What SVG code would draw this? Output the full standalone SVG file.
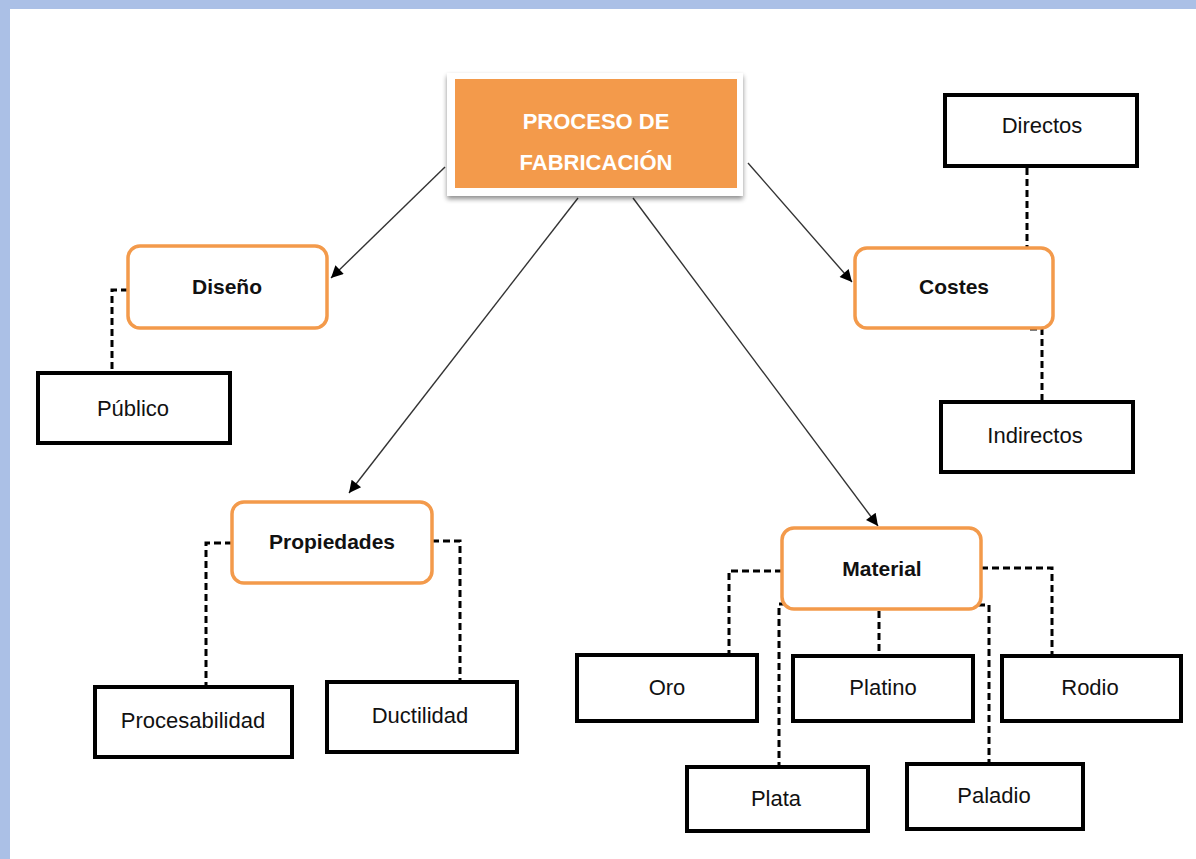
<svg xmlns="http://www.w3.org/2000/svg" width="1196" height="859" viewBox="0 0 1196 859">
  <style>
    .lbl { font-family: "Liberation Sans", Arial, sans-serif; fill: #111; text-anchor: middle; }
    .bold { font-weight: bold; font-size: 21px; }
    .reg { font-size: 22px; }
    .cat { fill: #fff; stroke: #f39a4b; stroke-width: 3.5; }
    .leaf { fill: #fff; stroke: #000; stroke-width: 4; }
    .arrow { fill: none; stroke: #333; stroke-width: 1.4; marker-end: url(#ah); }
    .dash { fill: none; stroke: #000; stroke-width: 3; stroke-dasharray: 7 4; }
  </style>
  <defs>
    <marker id="ah" viewBox="0 0 10 10" refX="10" refY="5" markerWidth="14" markerHeight="12" markerUnits="userSpaceOnUse" orient="auto">
      <path d="M0,0 L10,5 L0,10 z" fill="#000"/>
    </marker>
    <filter id="sh" x="-10%" y="-10%" width="130%" height="140%">
      <feGaussianBlur in="SourceAlpha" stdDeviation="2.5"/>
      <feOffset dx="0" dy="3" result="b"/>
      <feComponentTransfer><feFuncA type="linear" slope="0.45"/></feComponentTransfer>
      <feMerge><feMergeNode/><feMergeNode in="SourceGraphic"/></feMerge>
    </filter>
  </defs>

  <rect x="0" y="0" width="1196" height="859" fill="#fff"/>
  <rect x="0" y="0" width="1196" height="9" fill="#abc0e6"/>
  <rect x="0" y="0" width="10" height="859" fill="#abc0e6"/>

  <g id="connectors">
    <line class="arrow" x1="445" y1="167" x2="331" y2="278"/>
    <line class="arrow" x1="578" y1="198" x2="349" y2="493"/>
    <line class="arrow" x1="633" y1="198" x2="878" y2="526"/>
    <line class="arrow" x1="748" y1="163" x2="852" y2="282"/>

    <polyline class="dash" points="128,290 112,290 112,371"/>
    <polyline class="dash" points="1027,168 1027,251 1023,251"/>
    <polyline class="dash" points="1030,329 1042,329 1042,400"/>
    <polyline class="dash" points="232,543 206,543 206,686"/>
    <polyline class="dash" points="432,541 460,541 460,684 485,684"/>

    <polyline class="dash" points="782,571 729,571 729,655"/>
    <polyline class="dash" points="786,604 779,604 779,766"/>
    <line class="dash" x1="879" y1="611" x2="879" y2="654"/>
    <polyline class="dash" points="978,605 989,605 989,763"/>
    <polyline class="dash" points="981,568 1052,568 1052,655"/>
  </g>

  <g id="proceso">
    <rect x="447" y="73" width="296" height="123" fill="#fff" filter="url(#sh)"/>
    <rect x="455" y="79" width="282" height="109" fill="#f39a4b"/>
    <text class="lbl" x="596" y="129" font-size="22" font-weight="bold" style="fill:#fff">PROCESO DE</text>
    <text class="lbl" x="596" y="170" font-size="22" font-weight="bold" style="fill:#fff">FABRICACIÓN</text>
  </g>

  <g id="diseno">
    <rect class="cat" x="128" y="246" width="199" height="82" rx="12"/>
    <text class="lbl bold" x="227" y="294">Diseño</text>
  </g>
  <g id="publico">
    <rect class="leaf" x="38" y="373" width="192" height="70"/>
    <text class="lbl reg" x="133" y="416">Público</text>
  </g>

  <g id="costes">
    <rect class="cat" x="855" y="248" width="198" height="80" rx="12"/>
    <text class="lbl bold" x="954" y="294">Costes</text>
  </g>
  <g id="directos">
    <rect class="leaf" x="945" y="95" width="192" height="71"/>
    <text class="lbl reg" x="1042" y="133">Directos</text>
  </g>
  <g id="indirectos">
    <rect class="leaf" x="941" y="402" width="192" height="70"/>
    <text class="lbl reg" x="1035" y="443">Indirectos</text>
  </g>

  <g id="propiedades">
    <rect class="cat" x="232" y="502" width="200" height="81" rx="12"/>
    <text class="lbl bold" x="332" y="549">Propiedades</text>
  </g>
  <g id="procesabilidad">
    <rect class="leaf" x="95" y="687" width="197" height="70"/>
    <text class="lbl reg" x="193" y="728">Procesabilidad</text>
  </g>
  <g id="ductilidad">
    <rect class="leaf" x="327" y="682" width="190" height="70"/>
    <text class="lbl reg" x="420" y="723">Ductilidad</text>
  </g>

  <g id="material">
    <rect class="cat" x="782" y="528" width="199" height="81" rx="12"/>
    <text class="lbl bold" x="882" y="576">Material</text>
  </g>
  <g id="oro">
    <rect class="leaf" x="577" y="655" width="180" height="66"/>
    <text class="lbl reg" x="667" y="695">Oro</text>
  </g>
  <g id="platino">
    <rect class="leaf" x="793" y="656" width="180" height="65"/>
    <text class="lbl reg" x="883" y="695">Platino</text>
  </g>
  <g id="rodio">
    <rect class="leaf" x="1002" y="656" width="179" height="65"/>
    <text class="lbl reg" x="1090" y="695">Rodio</text>
  </g>
  <g id="plata">
    <rect class="leaf" x="687" y="767" width="181" height="64"/>
    <text class="lbl reg" x="776" y="806">Plata</text>
  </g>
  <g id="paladio">
    <rect class="leaf" x="907" y="764" width="176" height="65"/>
    <text class="lbl reg" x="994" y="803">Paladio</text>
  </g>
</svg>
